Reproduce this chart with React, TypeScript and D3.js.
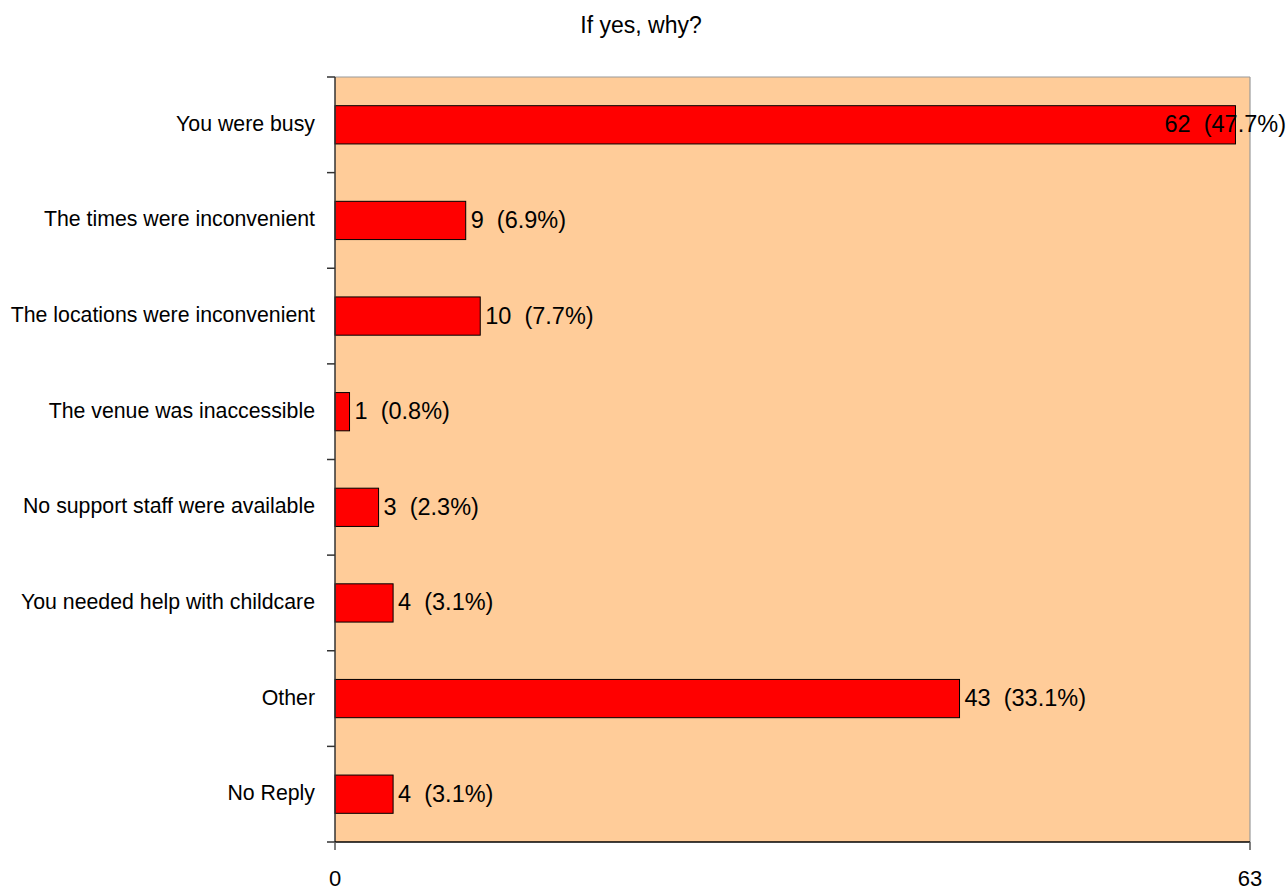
import React from "react";
import * as d3 from "d3";

const title = "If yes, why?";
const categories = [
  "You were busy",
  "The times were inconvenient",
  "The locations were inconvenient",
  "The venue was inaccessible",
  "No support staff were available",
  "You needed help with childcare",
  "Other",
  "No Reply",
];
const counts = [62, 9, 10, 1, 3, 4, 43, 4];
const percents = ["47.7%", "6.9%", "7.7%", "0.8%", "2.3%", "3.1%", "33.1%", "3.1%"];
const xTicks = [0, 63];

const W = 1288;
const H = 887;
const M = { left: 335, right: 1250, top: 77, bottom: 842 };
const FONT = "'Liberation Sans', Arial, Helvetica, sans-serif";

function measure(text: string, size: number): number {
  if (typeof document === "undefined") return text.length * size * 0.5;
  const c = document.createElement("canvas");
  const ctx = c.getContext("2d");
  if (!ctx) return text.length * size * 0.5;
  ctx.font = `${size}px ${FONT}`;
  return ctx.measureText(text).width;
}

export default function App() {
  const x = d3.scaleLinear().domain([0, 63]).range([M.left, M.right]);
  const y = d3
    .scaleBand<string>()
    .domain(categories)
    .range([M.top, M.bottom])
    .paddingInner(0.6)
    .paddingOuter(0.3);
  const boundaries = d3.range(categories.length + 1).map((i) => M.top + i * ((M.bottom - M.top) / categories.length));
  const valSize = 23.5;

  return (
    <svg
      width={W}
      height={H}
      style={{ position: "absolute", left: 0, top: 0, background: "#fff" }}
      fontFamily={FONT}
    >
      <text x={641} y={33} fontSize={23} textAnchor="middle" fill="#000">
        {title}
      </text>
      <rect x={M.left} y={M.top} width={M.right - M.left} height={M.bottom - M.top} fill="#FFCC99" />
      <line x1={M.left} x2={M.right} y1={M.top} y2={M.top} stroke="#9a9a9a" strokeWidth={1.2} />
      <line x1={M.right} x2={M.right} y1={M.top} y2={M.bottom} stroke="#9a9a9a" strokeWidth={1.2} />
      {counts.map((v, i) => {
        const cat = categories[i];
        const by = y(cat) as number;
        const cy = by + y.bandwidth() / 2;
        const xe = x(v);
        const label = `${v}  (${percents[i]})`;
        const tw = measure(label, valSize);
        let tx = xe + 5;
        if (tx + tw > W - 2) tx = W - 2 - tw;
        return (
          <g key={cat}>
            <rect
              x={x(0)}
              y={by}
              width={xe - x(0)}
              height={y.bandwidth()}
              fill="#FF0000"
              stroke="#000"
              strokeWidth={1}
            />
            <text x={tx} y={cy + 7.5} fontSize={valSize} fill="#000" style={{ whiteSpace: "pre" }}>
              {label}
            </text>
            <text x={315} y={cy + 6} fontSize={21.3} textAnchor="end" fill="#000">
              {cat}
            </text>
          </g>
        );
      })}
      <line x1={M.left} x2={M.left} y1={M.top} y2={M.bottom} stroke="#333" strokeWidth={1.5} />
      {boundaries.map((b, i) => (
        <line key={i} x1={327} x2={M.left} y1={b} y2={b} stroke="#333" strokeWidth={1.5} />
      ))}
      <line x1={M.left} x2={M.right} y1={M.bottom} y2={M.bottom} stroke="#000" strokeWidth={1.5} />
      {xTicks.map((t) => (
        <g key={t}>
          <line x1={x(t)} x2={x(t)} y1={M.bottom} y2={850} stroke="#555" strokeWidth={1.5} />
          <text x={x(t)} y={886} fontSize={22} textAnchor="middle" fill="#000">
            {t}
          </text>
        </g>
      ))}
    </svg>
  );
}
